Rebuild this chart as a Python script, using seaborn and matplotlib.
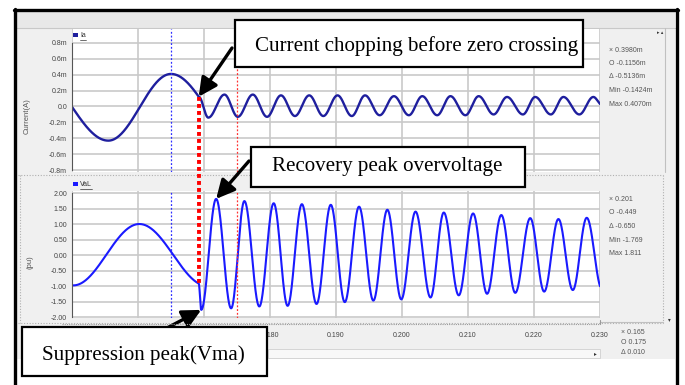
import numpy as np
import pandas as pd
import matplotlib.pyplot as plt
import seaborn as sns
from matplotlib.patches import Rectangle
from matplotlib.lines import Line2D

# ---- data ----
x_ticks = [0.150, 0.160, 0.170, 0.180, 0.190, 0.200, 0.210, 0.220, 0.230]
t_chop = 0.1692          # instant of current chopping (s)
cursor_x = 0.165         # X cursor
cursor_o = 0.175         # O cursor

# current Ia (mA): 50 Hz part before chopping (extrema, last one is never reached)
ia_pre_t = [0.1445, 0.1555, 0.1650, 0.1755]
ia_pre_v = [0.42, -0.43, 0.41, -0.42]
# oscillation after chopping
ia_trough_t = [0.17065, 0.17512, 0.17955, 0.18378, 0.18808, 0.19239, 0.19662,
               0.20104, 0.20533, 0.20961, 0.21388, 0.21832, 0.22255, 0.22687]
ia_trough_v = [-0.14, -0.13, -0.13, -0.12, -0.12, -0.12, -0.11,
               -0.11, -0.11, -0.11, -0.10, -0.10, -0.10, -0.10]
ia_peak_t = [0.17310, 0.17739, 0.18166, 0.18594, 0.19023, 0.19440, 0.19878,
             0.20307, 0.20734, 0.21162, 0.21591, 0.22018, 0.22446, 0.22899]
ia_peak_v = [0.15, 0.15, 0.14, 0.14, 0.14, 0.14, 0.13,
             0.13, 0.13, 0.13, 0.12, 0.12, 0.12, 0.12]
ia_end_t, ia_end_v = 0.2303, 0.02

# voltage VaL (pu)
va_pre_t = [0.1400, 0.1502, 0.1602, 0.1705]
va_pre_v = [1.00, -0.98, 1.00, -1.00]
va_trough_t = [0.16958, 0.17411, 0.17838, 0.18267, 0.18705, 0.19133, 0.19566,
               0.19989, 0.20432, 0.20860, 0.21289, 0.21716, 0.22154, 0.22588]
va_trough_v = [-1.77, -1.72, -1.66, -1.64, -1.58, -1.52, -1.47,
               -1.43, -1.37, -1.30, -1.25, -1.22, -1.18, -1.13]
va_peak_t = [0.17184, 0.17612, 0.18056, 0.18483, 0.18921, 0.19349, 0.19778,
             0.20205, 0.20633, 0.21077, 0.21505, 0.21943, 0.22370, 0.22799]
va_peak_v = [1.81, 1.74, 1.67, 1.64, 1.62, 1.56, 1.46,
             1.40, 1.37, 1.34, 1.29, 1.19, 1.16, 1.20]
va_end_t, va_end_v = 0.2303, -1.10

ia_ticks = [0.8, 0.6, 0.4, 0.2, 0.0, -0.2, -0.4, -0.6, -0.8]
va_ticks = [2.0, 1.5, 1.0, 0.5, 0.0, -0.5, -1.0, -1.5, -2.0]

ia_stats = ["\u00d7 0.3980m", "O -0.1156m", "\u0394 -0.5136m", "Min -0.1424m", "Max 0.4070m"]
va_stats = ["\u00d7 0.201", "O -0.449", "\u0394 -0.650", "Min -1.769", "Max 1.811"]
cursor_stats = ["\u00d7 0.165", "O 0.175", "\u0394 0.010"]

notes = ["Current chopping before zero crossing", "Recovery peak overvoltage",
         "Suppression peak(Vma)"]


def wave(knot_t, knot_v, t):
    # half-cosine shape between consecutive extrema
    knot_t = np.asarray(knot_t)
    knot_v = np.asarray(knot_v)
    i = np.clip(np.searchsorted(knot_t, t, side="right") - 1, 0, len(knot_t) - 2)
    s = np.clip((t - knot_t[i]) / (knot_t[i + 1] - knot_t[i]), 0, 1)
    return knot_v[i] + (knot_v[i + 1] - knot_v[i]) * (1 - np.cos(np.pi * s)) / 2


def build(pre_t, pre_v, tr_t, tr_v, pk_t, pk_v, end_t, end_v):
    t1 = np.linspace(0.150, t_chop, 400)
    v1 = wave(pre_t, pre_v, t1)
    ext = dict(zip(tr_t, tr_v)) | dict(zip(pk_t, pk_v))
    order = sorted(ext)
    kt = [t_chop] + order + [end_t]
    kv = [v1[-1]] + [ext[k] for k in order] + [end_v]
    t2 = np.linspace(t_chop, 0.230, 2000)[1:]
    v2 = wave(kt, kv, t2)
    return pd.DataFrame({"t": np.r_[t1, t2], "v": np.r_[v1, v2]}), v1[-1]


ia_df, ia_chop = build(ia_pre_t, ia_pre_v, ia_trough_t, ia_trough_v,
                       ia_peak_t, ia_peak_v, ia_end_t, ia_end_v)
va_df, va_chop = build(va_pre_t, va_pre_v, va_trough_t, va_trough_v,
                       va_peak_t, va_peak_v, va_end_t, va_end_v)

sns.set_style("white")
plt.rcParams["font.family"] = ["Liberation Sans", "DejaVu Sans"]

W, H = 685, 385
fig = plt.figure(figsize=(W / 100, H / 100), dpi=100)


def fx(x):
    return x / W


def fy(y):
    return 1 - y / H


def rect(x0, y0, x1, y1, **kw):
    r = Rectangle((fx(x0), fy(y1)), (x1 - x0) / W, (y1 - y0) / H,
                  transform=fig.transFigure, **kw)
    fig.add_artist(r)
    return r


def hline(x0, x1, y, **kw):
    fig.add_artist(Line2D([fx(x0), fx(x1)], [fy(y), fy(y)], transform=fig.transFigure, **kw))


def vline(x, y0, y1, **kw):
    fig.add_artist(Line2D([fx(x), fx(x)], [fy(y0), fy(y1)], transform=fig.transFigure, **kw))


# window background
rect(16, 12, 675, 359, fc="#f0f0f0", ec="none", zorder=-3)
rect(16, 12, 675, 28, fc="#e8e8e8", ec="none", zorder=-2)
hline(16, 675, 28, color="#c8c8c8", lw=0.8, zorder=-1)
hline(18, 663, 175, color="#b0b0b0", lw=0.8, ls=(0, (1, 1.5)), zorder=-1)
hline(18, 663, 323, color="#b0b0b0", lw=0.8, ls=(0, (1, 1.5)), zorder=-1)
vline(20, 175, 323, color="#b0b0b0", lw=0.8, ls=(0, (1, 1.5)), zorder=-1)
vline(663, 175, 323, color="#b0b0b0", lw=0.8, ls=(0, (1, 1.5)), zorder=-1)
vline(665, 28, 172, color="#c0c0c0", lw=0.8, zorder=-1)
rect(268, 349, 600, 358, fc="#f8f8f8", ec="#d0d0d0", lw=0.6, zorder=-1)
hline(600, 663, 322, color="#c0c0c0", lw=0.8, zorder=-1)
fig.text(fx(595), fy(354), "\u25b8", fontsize=4, color="#333", ha="center", va="center")
fig.text(fx(669), fy(320), "\u25be", fontsize=4, color="#333", ha="center", va="center")
fig.text(fx(660), fy(33), "\u25b8 \u25b4", fontsize=3.5, color="#333", ha="center", va="center")

# outer black frame
vline(15, 9, 385, color="black", lw=2.4, zorder=10)
vline(677, 9, 385, color="black", lw=2.4, zorder=10)
hline(14, 678, 10, color="black", lw=2.4, zorder=10)

ax1 = fig.add_axes([fx(72), fy(172), (600 - 72) / W, (172 - 29) / H])
ax2 = fig.add_axes([fx(72), fy(318), (600 - 72) / W, (318 - 191) / H])

sns.lineplot(data=ia_df, x="t", y="v", ax=ax1, color="#1f1f9e", linewidth=1.7,
             estimator=None, sort=False)
sns.lineplot(data=va_df, x="t", y="v", ax=ax2, color="#1a1aff", linewidth=1.5,
             estimator=None, sort=False)

ax1.set_ylim(-0.825, 0.976)
ax2.set_ylim(-2.032, 2.065)
for ax, ticks in ((ax1, ia_ticks), (ax2, va_ticks)):
    ax.set_xlim(x_ticks[0], x_ticks[-1])
    ax.set_xticks(x_ticks)
    ax.set_yticks(ticks)
    ax.grid(True, color="#c9c9c9", lw=1.2)
    ax.set_axisbelow(True)
    ax.set_xlabel("")
    ax.set_ylabel("")
    for sp in ("top", "right", "bottom"):
        ax.spines[sp].set_visible(False)
    ax.spines["left"].set_color("#555555")
    ax.spines["left"].set_linewidth(0.8)
    ax.spines["left"].set_bounds(ticks[-1], ticks[0])
    ax.tick_params(axis="y", length=3, width=0.7, color="#444", pad=0.5,
                   labelsize=5, labelcolor="#444")
    ax.axvline(cursor_x, color="#2f2fff", lw=0.9, ls=(0, (1.5, 1.5)), zorder=3)
    ax.axvline(cursor_o, color="#ff3030", lw=0.9, ls=(0, (1.5, 1.5)), zorder=3)

ax1.set_yticklabels(["0.0" if v == 0 else f"{v:.1f}m" for v in ia_ticks])
ax2.set_yticklabels([f"{v:.2f}" for v in va_ticks])
ax1.tick_params(axis="x", length=0, labelbottom=False)
ax2.tick_params(axis="x", length=0, pad=10, labelsize=5, labelcolor="#444")
ax2.set_xticklabels([f"{v:.3f}" for v in x_ticks])

# ruler under the time axis
hline(62, 600, 324, color="#9a9a9a", lw=0.8, ls=(0, (1, 1)), zorder=1)
vline(600, 320, 324, color="#9a9a9a", lw=0.8, zorder=1)

# legends and axis names
rect(73, 33, 78, 37, fc="#1f1f9e", ec="none")
fig.text(fx(80), fy(35.5), "Ia", fontsize=5, color="#333", va="center")
hline(80, 86, 40, color="#333", lw=0.5)
rect(73, 182, 78, 186, fc="#1a1aff", ec="none")
fig.text(fx(80), fy(184.5), "VaL", fontsize=5, color="#333", va="center")
hline(80, 92, 189, color="#333", lw=0.5)
fig.text(fx(27), fy(116), "Current(A)", fontsize=5.5, color="#555", rotation=90,
         ha="center", va="center")
fig.text(fx(30), fy(262), "(pu)", fontsize=5.5, color="#555", rotation=90,
         ha="center", va="center")

# cursor readouts
for i, s in enumerate(ia_stats):
    fig.text(fx(609), fy(50 + i * 13.5), s, fontsize=5, color="#555", va="center")
for i, s in enumerate(va_stats):
    fig.text(fx(609), fy(199.5 + i * 13.5), s, fontsize=5, color="#555", va="center")
for i, s in enumerate(cursor_stats):
    fig.text(fx(621), fy(332 + i * 10.5), s, fontsize=5, color="#555", va="center")

# chopping marker: thick dotted red line joining the two traces
to_fig = fig.transFigure.inverted()
pa = to_fig.transform(ax1.transData.transform((t_chop, ia_chop)))
pb = to_fig.transform(ax2.transData.transform((t_chop, va_chop)))
fig.add_artist(Line2D([pa[0], pb[0]], [pa[1], pb[1]], transform=fig.transFigure,
                      color="#ff0000", lw=2.8, ls=(0, (1, 0.8)),
                      dash_capstyle="butt", zorder=4))

# annotation boxes
boxes = [(235, 20, 583, 66.5, 255, 51.5), (251, 147, 525, 187, 271.5, 171.5),
         (22, 327, 267, 376, 41.5, 360)]
for (x0, y0, x1, y1, tx, ty), label in zip(boxes, notes):
    rect(x0, y0, x1, y1, fc="white", ec="black", lw=1.6, zorder=6)
    fig.text(fx(tx), fy(ty), label, fontsize=15.1, family="Liberation Serif",
             color="black", va="baseline", ha="left", zorder=7)

arrow = dict(arrowstyle="-|>,head_length=0.8,head_width=0.4", lw=2.4, color="black",
             shrinkA=0, shrinkB=0, mutation_scale=14)
ax1.annotate("", xy=(t_chop, ia_chop), xytext=(232, H - 48), textcoords="figure pixels",
             arrowprops=arrow, annotation_clip=False)
ax2.annotate("", xy=(va_peak_t[0], va_peak_v[0]), xytext=(249, H - 161),
             textcoords="figure pixels", arrowprops=arrow, annotation_clip=False)
ax2.annotate("", xy=(va_trough_t[0], va_trough_v[0]), xytext=(167, H - 328),
             textcoords="figure pixels", arrowprops=arrow, annotation_clip=False)

fig.savefig("out.png", dpi=100)
